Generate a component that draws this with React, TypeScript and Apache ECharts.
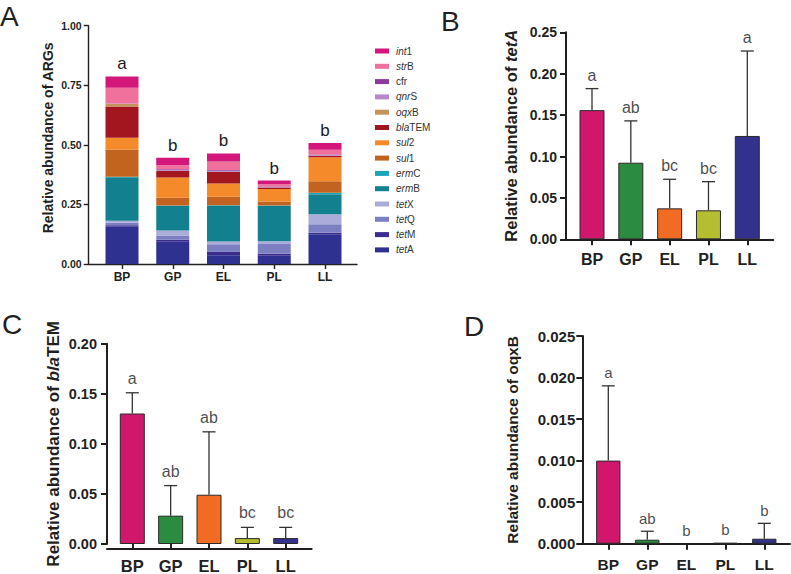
import React, { useEffect, useRef } from 'react';
import * as echarts from 'echarts';

// ---------- data ----------
const CATEGORIES = ['BP', 'GP', 'EL', 'PL', 'LL'];

// Panel A: stacked relative abundance (bottom -> top)
const tetA = [0.156, 0.093, 0.037, 0.035, 0.125];
const tetM = [0.007, 0.009, 0.015, 0.008, 0.006];
const tetQ = [0.010, 0.018, 0.031, 0.041, 0.036];
const tetX = [0.008, 0.021, 0.011, 0.011, 0.042];
const ermB = [0.183, 0.103, 0.151, 0.148, 0.084];
const ermC = [0.002, 0.002, 0.002, 0.002, 0.006];
const sul1 = [0.115, 0.032, 0.035, 0.017, 0.048];
const sul2 = [0.049, 0.085, 0.056, 0.053, 0.101];
const blaTEM = [0.131, 0.028, 0.049, 0.006, 0.006];
const oqxB = [0.010, 0.0005, 0, 0.0001, 0.0006];
const qnrS = [0.002, 0.003, 0.004, 0.002, 0.003];
const cfr = [0.001, 0.003, 0.003, 0.002, 0.002];
const strB = [0.066, 0.017, 0.036, 0.010, 0.020];
const int1 = [0.047, 0.031, 0.034, 0.015, 0.028];

const GENE_NAMES = ['tetA', 'tetM', 'tetQ', 'tetX', 'ermB', 'ermC', 'sul1', 'sul2', 'blaTEM', 'oqxB', 'qnrS', 'cfr', 'strB', 'int1'];
const GENE_VALUES = [tetA, tetM, tetQ, tetX, ermB, ermC, sul1, sul2, blaTEM, oqxB, qnrS, cfr, strB, int1];
const GENE_COLORS = ['#2E3190', '#3A2D8F', '#7C7FC1', '#AAADDA', '#13808F', '#1AA5BA', '#C2631F', '#F58A2B', '#A3161F', '#C39359', '#B888CA', '#8C3A9B', '#F0719B', '#D4177B'];
const STACK_LETTERS = ['a', 'b', 'b', 'b', 'b'];

// Panel B: tetA
const tetAMean = [0.156, 0.0925, 0.0374, 0.035, 0.1248];
const tetASd = [0.026, 0.0505, 0.0351, 0.0346, 0.1026];
const tetALetters = ['a', 'ab', 'bc', 'bc', 'a'];

// Panel C: blaTEM
const blaMean = [0.1303, 0.0283, 0.0492, 0.0059, 0.0059];
const blaSd = [0.0207, 0.030, 0.0628, 0.0107, 0.0107];
const blaLetters = ['a', 'ab', 'ab', 'bc', 'bc'];

// Panel D: oqxB
const oqxMean = [0.0100, 0.00048, 0, 0.0001, 0.0006];
const oqxSd = [0.0090, 0.00102, 0, 0, 0.00185];
const oqxLetters = ['a', 'ab', 'b', 'b', 'b'];

const GROUP_COLORS = ['#D1176C', '#2B8B3F', '#F26B22', '#B5BD30', '#33318E'];

// ---------- helpers ----------
const FONT = 'Arial, "Liberation Sans", Helvetica, sans-serif';
const INK = '#231F20';

function geneRich(name: string) {
  if (name === 'cfr') return `{n|${name}}`;
  const m = name.match(/^([a-z]+)(.*)$/);
  if (!m) return `{n|${name}}`;
  return m[2] ? `{i|${m[1]}}{n|${m[2]}}` : `{i|${m[1]}}`;
}

interface Geo { axisX: number; axisEnd: number; top: number; zero: number; c0: number; c4: number; }

function buildPanel(
  idx: number, geo: Geo, o: {
    max: number; interval: number; decimals: number; name: string; nameGap: number; nameSize: number;
    tickSize: number; catSize: number; catMargin: number; labelMargin: number; axisWidth: number; tickLen: number;
    namePad?: number[];
  }
) {
  const band = (geo.c4 - geo.c0) / 4;
  const left = geo.c0 - band / 2;
  const width = band * 5;
  const offset = left - geo.axisX;
  const grids = [
    { left, top: geo.top, width, height: geo.zero - geo.top },
    { left: geo.axisX, top: geo.top, width: geo.axisEnd - geo.axisX, height: geo.zero - geo.top },
  ];
  const xAxes = [
    {
      type: 'category', gridIndex: idx * 2, data: CATEGORIES,
      axisLine: { show: false },
      axisTick: { show: true, alignWithLabel: true, length: o.tickLen, lineStyle: { color: INK, width: o.axisWidth } },
      axisLabel: { fontFamily: FONT, fontWeight: 'bold', fontSize: o.catSize, color: INK, margin: o.catMargin },
    },
    {
      type: 'value', gridIndex: idx * 2 + 1, min: 0, max: 1,
      axisLine: { show: true, lineStyle: { color: INK, width: o.axisWidth } },
      axisTick: { show: false }, axisLabel: { show: false }, splitLine: { show: false },
    },
  ];
  const yAxes = [
    {
      type: 'value', gridIndex: idx * 2, min: 0, max: o.max, interval: o.interval, offset,
      axisLine: { show: true, lineStyle: { color: INK, width: o.axisWidth } },
      axisTick: { show: true, length: o.tickLen, lineStyle: { color: INK, width: o.axisWidth } },
      axisLabel: {
        fontFamily: FONT, fontWeight: 'bold', fontSize: o.tickSize, color: INK, margin: o.labelMargin,
        formatter: (v: number) => v.toFixed(o.decimals),
      },
      splitLine: { show: false },
      name: o.name, nameLocation: 'middle', nameGap: o.nameGap,
      nameTextStyle: {
        fontFamily: FONT, fontWeight: 'bold', fontSize: o.nameSize, color: INK,
        padding: o.namePad || 0,
        rich: {
          i: { fontFamily: FONT, fontWeight: 'bold', fontStyle: 'italic', fontSize: o.nameSize, color: INK },
          n: { fontFamily: FONT, fontWeight: 'bold', fontSize: o.nameSize, color: INK },
        },
      },
    },
    { type: 'value', gridIndex: idx * 2 + 1, show: false, min: 0, max: 1 },
  ];
  return { grids, xAxes, yAxes, band };
}

function meanSdSeries(
  axisIdx: number, mean: number[], sd: number[], letters: string[], barWidth: number,
  letterSize: number, letterDist: number
) {
  return [
    {
      type: 'bar', xAxisIndex: axisIdx, yAxisIndex: axisIdx, barWidth,
      data: mean.map((v, i) => ({ value: v, itemStyle: { color: GROUP_COLORS[i], borderColor: '#2a2a2a', borderWidth: v > 0 ? 1 : 0 } })),
    },
    {
      type: 'custom', xAxisIndex: axisIdx, yAxisIndex: axisIdx,
      data: mean.map((v, i) => [i, v, v + sd[i]]),
      renderItem: (params: any, api: any) => {
        const x = api.value(0), lo = api.value(1), hi = api.value(2);
        if (!(hi > lo)) return { type: 'group', children: [] };
        const p0 = api.coord([x, lo]);
        const p1 = api.coord([x, hi]);
        const hw = 6.5;
        const st = { stroke: '#333', lineWidth: 1.3 };
        return {
          type: 'group', children: [
            { type: 'line', shape: { x1: p0[0], y1: p0[1], x2: p1[0], y2: p1[1] }, style: st },
            { type: 'line', shape: { x1: p1[0] - hw, y1: p1[1], x2: p1[0] + hw, y2: p1[1] }, style: st },
          ],
        };
      },
      z: 3,
    },
    {
      type: 'scatter', xAxisIndex: axisIdx, yAxisIndex: axisIdx, symbolSize: 1,
      itemStyle: { color: 'rgba(0,0,0,0)' },
      data: mean.map((v, i) => [i, v + sd[i]]),
      label: {
        show: true, position: 'top', distance: letterDist,
        formatter: (p: any) => letters[p.dataIndex],
        fontFamily: FONT, fontSize: letterSize, color: '#1a1a1a',
      },
      z: 4,
    },
  ];
}

export default function App() {
  const ref = useRef<HTMLDivElement>(null);
  useEffect(() => {
    if (!ref.current) return;
    const chart = echarts.init(ref.current, undefined, { renderer: 'svg' });

    const pA = buildPanel(0, { axisX: 88.7, axisEnd: 357, top: 25.7, zero: 264, c0: 122, c4: 325 }, {
      max: 1, interval: 0.25, decimals: 2, name: 'Relative abundance of ARGs', nameGap: 34, nameSize: 14,
      tickSize: 10.5, catSize: 12, catMargin: 7, labelMargin: 7, axisWidth: 1.4, tickLen: 5,
      namePad: [0, 0, 0, 14],
    });
    const pB = buildPanel(1, { axisX: 566, axisEnd: 773.3, top: 32.3, zero: 239.3, c0: 592, c4: 747.3 }, {
      max: 0.25, interval: 0.05, decimals: 2, name: 'Relative abundance of {i|tetA}', nameGap: 47, nameSize: 16.5,
      tickSize: 14, catSize: 16, catMargin: 12, labelMargin: 9, axisWidth: 2, tickLen: 6,
    });
    const pC = buildPanel(2, { axisX: 107, axisEnd: 311.7, top: 343.7, zero: 548.3, c0: 132.3, c4: 285.7 }, {
      max: 0.2, interval: 0.05, decimals: 2, name: 'Relative abundance of {i|bla}TEM', nameGap: 45, nameSize: 17,
      tickSize: 14.5, catSize: 16.5, catMargin: 13, labelMargin: 10, axisWidth: 2, tickLen: 6,
    });
    const pD = buildPanel(3, { axisX: 582.3, axisEnd: 790, top: 336, zero: 543.7, c0: 608.3, c4: 764.3 }, {
      max: 0.025, interval: 0.005, decimals: 3, name: 'Relative abundance of oqxB', nameGap: 62, nameSize: 15.5,
      tickSize: 15, catSize: 15.5, catMargin: 12.5, labelMargin: 7, axisWidth: 2, tickLen: 6,
    });

    const stackSeries = GENE_NAMES.map((name, gi) => ({
      type: 'bar', name, stack: 'A', xAxisIndex: 0, yAxisIndex: 0, barWidth: 33,
      itemStyle: { color: GENE_COLORS[gi] },
      data: GENE_VALUES[gi],
      label: gi === GENE_NAMES.length - 1 ? {
        show: true, position: 'top', distance: 4,
        formatter: (p: any) => STACK_LETTERS[p.dataIndex],
        fontFamily: FONT, fontSize: 17, color: '#1a1a1a',
      } : { show: false },
    }));

    const option: any = {
      animation: false,
      backgroundColor: '#ffffff',
      textStyle: { fontFamily: FONT },
      grid: [...pA.grids, ...pB.grids, ...pC.grids, ...pD.grids],
      xAxis: [...pA.xAxes, ...pB.xAxes, ...pC.xAxes, ...pD.xAxes],
      yAxis: [...pA.yAxes, ...pB.yAxes, ...pC.yAxes, ...pD.yAxes],
      legend: {
        orient: 'vertical', left: 375, top: 45, padding: 0,
        data: [...GENE_NAMES].reverse(),
        icon: 'rect', itemWidth: 14, itemHeight: 5, itemGap: 3.3,
        selectedMode: false,
        formatter: (name: string) => geneRich(name),
        textStyle: {
          fontFamily: FONT, fontSize: 10, lineHeight: 12, color: '#333', padding: [0, 0, 0, 2],
          rich: {
            i: { fontFamily: FONT, fontSize: 10, fontStyle: 'italic', color: '#333', lineHeight: 12 },
            n: { fontFamily: FONT, fontSize: 10, color: '#333', lineHeight: 12 },
          },
        },
      },
      graphic: [
        { type: 'text', left: 0, top: 2, style: { text: 'A', fontFamily: FONT, fontSize: 28, fill: INK } },
        { type: 'text', left: 441, top: 7, style: { text: 'B', fontFamily: FONT, fontSize: 28, fill: INK } },
        { type: 'text', left: 2, top: 310, style: { text: 'C', fontFamily: FONT, fontSize: 28, fill: INK } },
        { type: 'text', left: 464, top: 312, style: { text: 'D', fontFamily: FONT, fontSize: 28, fill: INK } },
      ],
      series: [
        ...stackSeries,
        ...meanSdSeries(2, tetAMean, tetASd, tetALetters, 25, 16, 5),
        ...meanSdSeries(4, blaMean, blaSd, blaLetters, 25, 16, 6),
        ...meanSdSeries(6, oqxMean, oqxSd, oqxLetters, 24.3, 15, 5),
      ],
    };
    chart.setOption(option);
    return () => chart.dispose();
  }, []);
  return <div ref={ref} style={{ position: 'fixed', left: 0, top: 0, width: 791, height: 574, background: '#fff' }} />;
}
